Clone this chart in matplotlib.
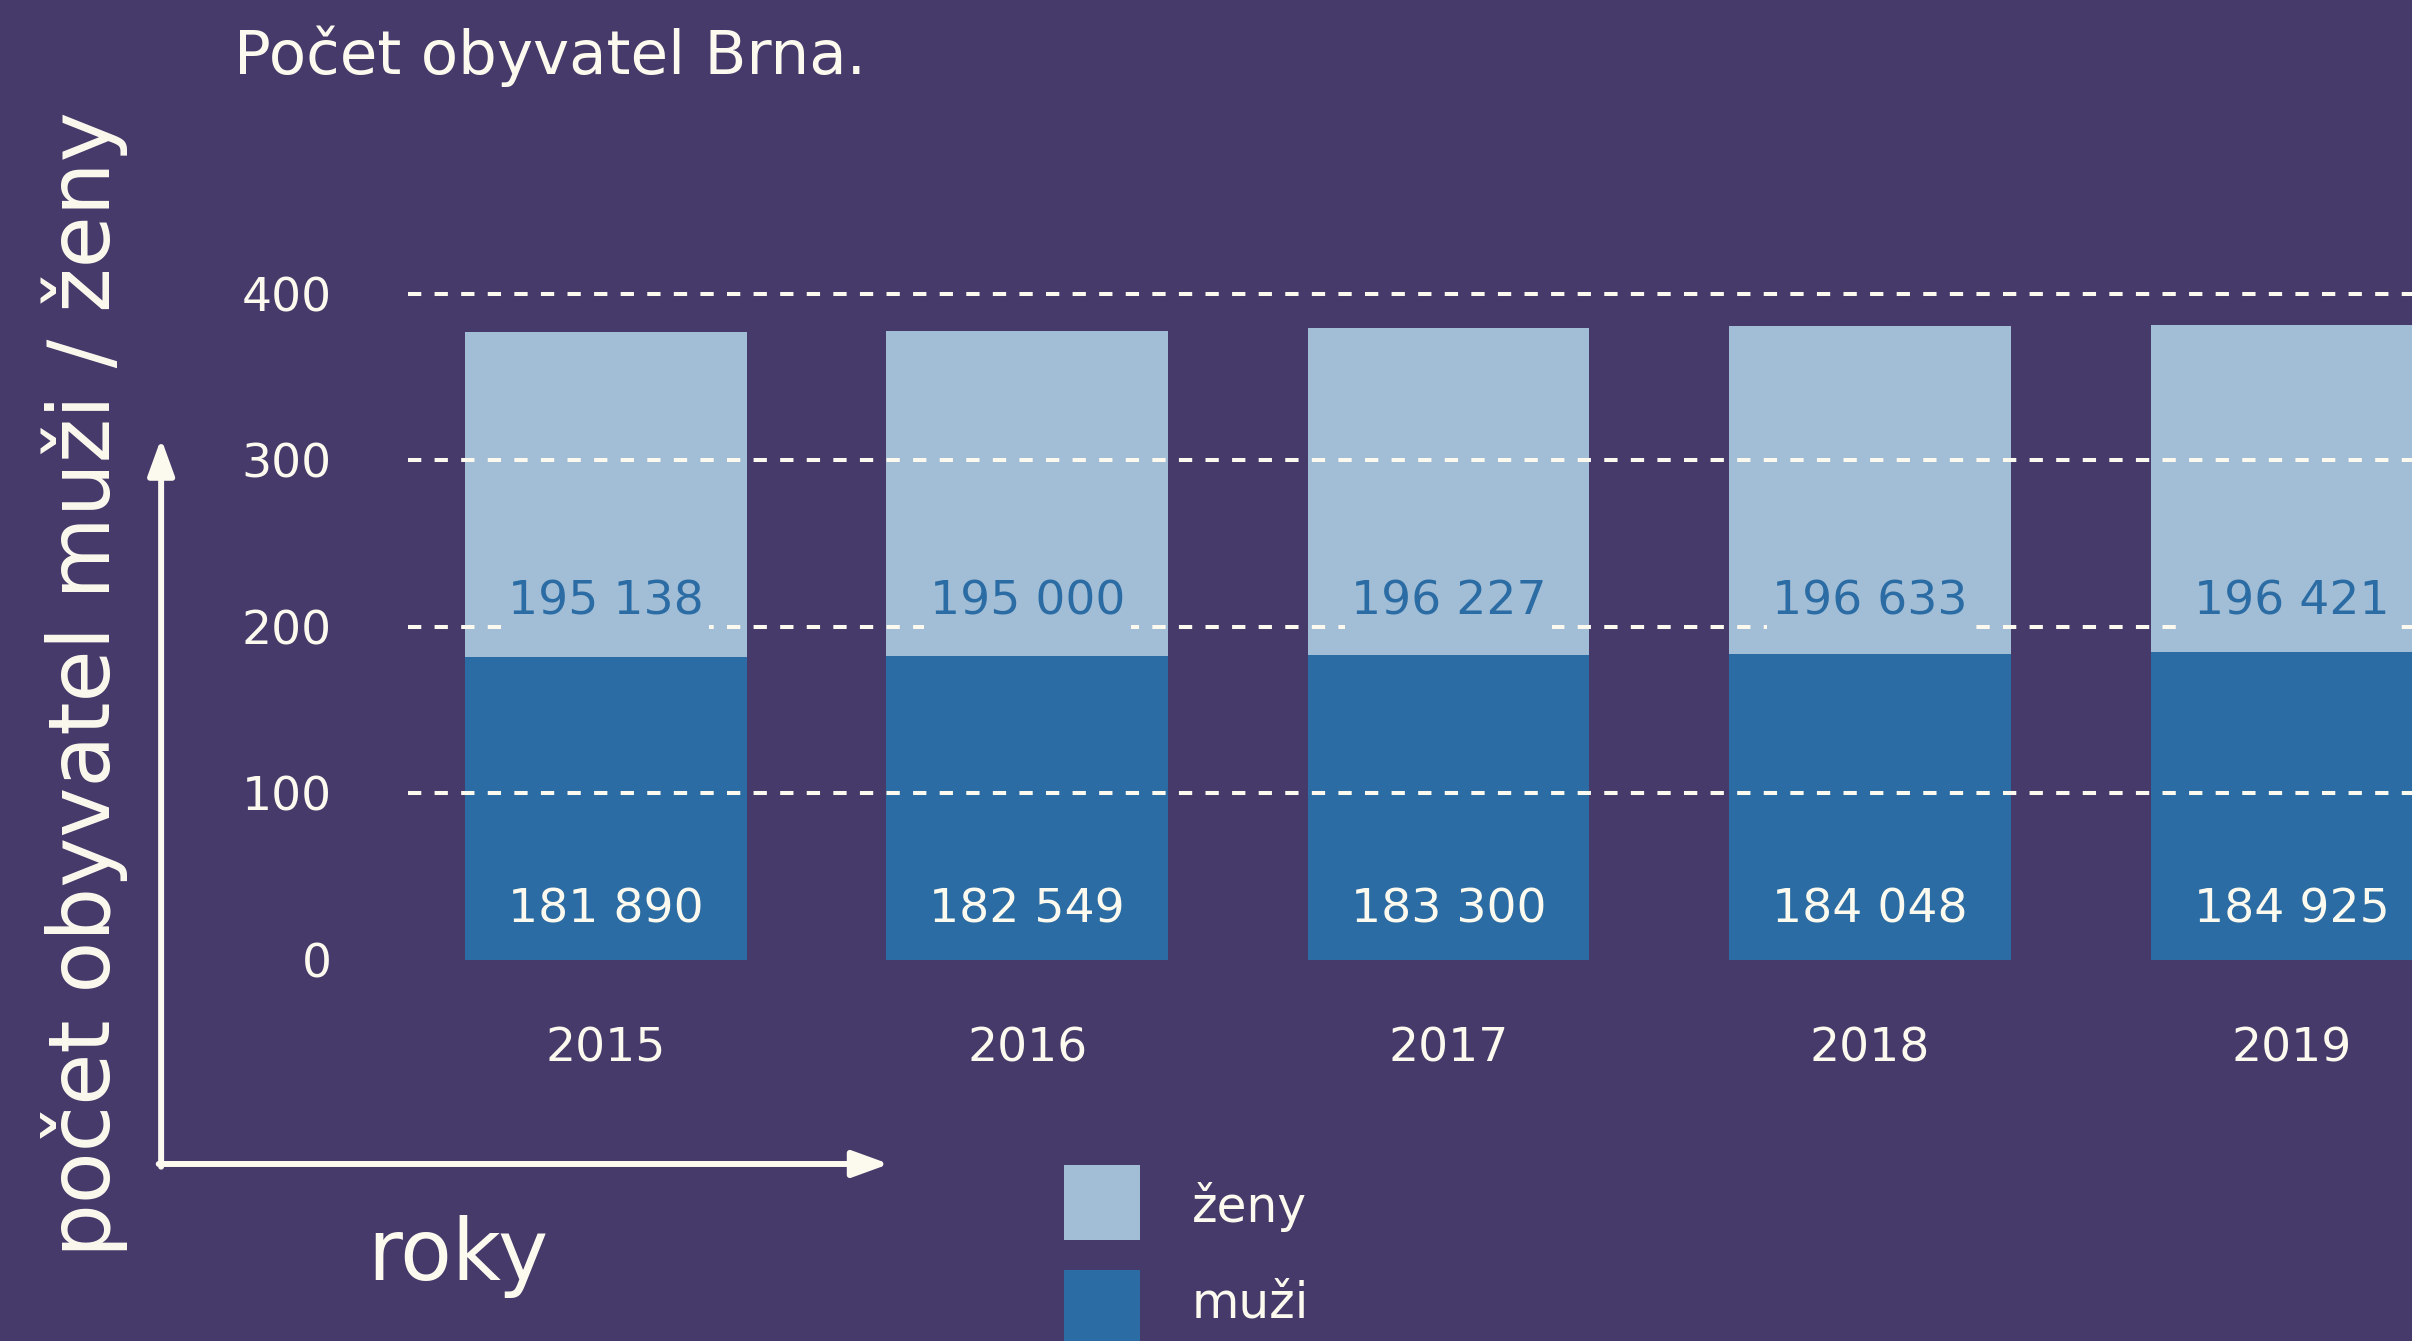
import matplotlib
matplotlib.use('Agg')
import matplotlib.pyplot as plt
from matplotlib.patches import FancyArrowPatch, Rectangle

# data (pocet obyvatel Brna)
years = ['2015', '2016', '2017', '2018', '2019']
muzi = [181890, 182549, 183300, 184048, 184925]
zeny = [195138, 195000, 196227, 196633, 196421]
y_ticks = [0, 100, 200, 300, 400]
grid_levels = [100, 200, 300, 400]

bg = '#463a6b'
dark = '#2a6ca3'
light = '#a2bdd6'
cream = '#fcf9ee'

plt.rcParams['font.family'] = ['DejaVu Sans']

fig = plt.figure(figsize=(24.12, 13.41), dpi=100, facecolor=bg)
ax = fig.add_axes([0.1692, 0.2841, 0.8308, 0.5464])
ax.set_facecolor('none')

x = list(range(len(years)))
muzi_k = [v / 1000 for v in muzi]
zeny_k = [v / 1000 for v in zeny]

ax.bar(x, muzi_k, width=0.668, color=dark, zorder=1)
ax.bar(x, zeny_k, width=0.668, bottom=muzi_k, color=light, zorder=1)

# dashed guide lines, drawn on top of the bars
for lvl in grid_levels:
    ax.axhline(lvl, color=cream, lw=2.9, linestyle=(0, (3.3, 3.3)), zorder=2)

# value labels
for i in x:
    ax.text(i, 30, f"{muzi[i]:,}".replace(',', ' '), ha='center', va='center',
            fontsize=34, color=cream, zorder=3,
            bbox=dict(facecolor=dark, edgecolor='none', pad=4))
    ax.text(i, 215, f"{zeny[i]:,}".replace(',', ' '), ha='center', va='center',
            fontsize=34, color=dark, zorder=3,
            bbox=dict(facecolor=light, edgecolor='none', pad=4))

ax.set_xlim(-0.469, 4.286)
ax.set_ylim(0, 440)
ax.set_xticks(x)
ax.set_xticklabels(years)
ax.set_yticks(y_ticks)
ax.set_yticklabels([str(t) for t in y_ticks])
ax.tick_params(axis='both', length=0, colors=cream, labelsize=34)
ax.tick_params(axis='x', pad=48)
ax.tick_params(axis='y', pad=55)
for s in ax.spines.values():
    s.set_visible(False)

# title and axis captions
fig.text(0.097, 0.945, 'Počet obyvatel Brna.', fontsize=44, color=cream,
         ha='left', va='baseline')
fig.text(0.035, 0.49, 'počet obyvatel muži / ženy', fontsize=61, color=cream,
         rotation=90, ha='center', va='center')
fig.text(0.19, 0.0455, 'roky', fontsize=61, color=cream, ha='center', va='baseline')

# axis arrows
corner = (0.0668, 0.132)
style = '-|>,head_length=22,head_width=8'
fig.add_artist(FancyArrowPatch((corner[0], corner[1] - 0.002), (corner[0], 0.673),
                               transform=fig.transFigure, arrowstyle=style,
                               mutation_scale=1, lw=4.3, color=cream,
                               shrinkA=0, shrinkB=0))
fig.add_artist(FancyArrowPatch((corner[0] - 0.001, corner[1]), (0.3686, corner[1]),
                               transform=fig.transFigure, arrowstyle=style,
                               mutation_scale=1, lw=4.3, color=cream,
                               shrinkA=0, shrinkB=0))

# legend
fig.add_artist(Rectangle((0.4411, 0.0753), 0.0315, 0.0559, transform=fig.transFigure,
                         facecolor=light, edgecolor='none'))
fig.add_artist(Rectangle((0.4411, -0.003), 0.0315, 0.0559, transform=fig.transFigure,
                         facecolor=dark, edgecolor='none'))
fig.text(0.494, 0.1, 'ženy', fontsize=35, color=cream, ha='left', va='center')
fig.text(0.494, 0.0276, 'muži', fontsize=35, color=cream, ha='left', va='center')

fig.savefig('out.png', dpi=100, facecolor=bg)
